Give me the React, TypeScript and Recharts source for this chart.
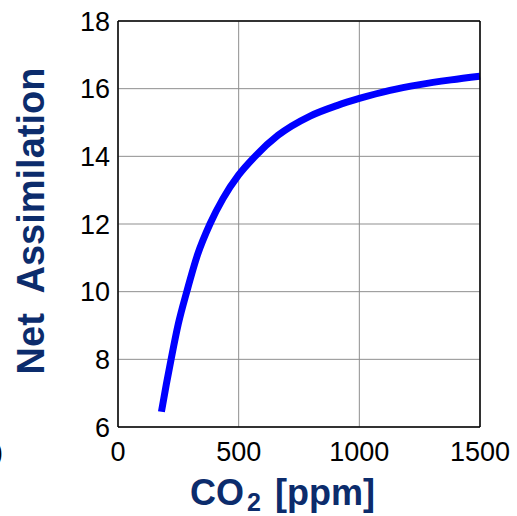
import React from 'react';
import { LineChart, Line, XAxis, YAxis, CartesianGrid, Label } from 'recharts';

const co2 = [180, 200, 220, 250, 285, 330, 381, 435, 500, 568, 663, 796, 907, 1000, 1127, 1250, 1380, 1500];
const assimilation = [6.45, 7.25, 8.0, 9.05, 10.0, 11.1, 12.0, 12.75, 13.45, 14.0, 14.62, 15.19, 15.5, 15.71, 15.95, 16.12, 16.26, 16.37];
const xTicks = [0, 500, 1000, 1500];
const yTicks = [6, 8, 10, 12, 14, 16, 18];

const data = co2.map((c, i) => ({ co2: c, a: assimilation[i] }));

const FONT = '"Liberation Sans", Arial, sans-serif';
const NAVY = '#0c2c6c';

const Labels = () => (
  <g fontFamily={FONT}>
    <text
      x={44}
      y={221}
      transform="rotate(-90, 44, 221)"
      textAnchor="middle"
      fontSize={38}
      fontWeight="bold"
      fill={NAVY}
      style={{ whiteSpace: 'pre' }}
    >
      {'Net  Assimilation'}
    </text>
    <text y={505} fontSize={36} fontWeight="bold" fill={NAVY}>
      <tspan x={190}>CO</tspan>
      <tspan x={247} y={511} fontSize={25}>2</tspan>
      <tspan x={275} y={505}>[ppm]</tspan>
    </text>
    <text x={3} y={461} fontSize={27} textAnchor="end" fill="#000">)</text>
  </g>
);

export default function App() {
  return (
    <div style={{ position: 'absolute', left: 0, top: 0, background: '#fff' }}>
      <LineChart
        width={517}
        height={516}
        data={data}
        margin={{ top: 20, right: 36, left: 38, bottom: 29 }}
      >
        <CartesianGrid stroke="#8f8f8f" strokeWidth={1} />
        <XAxis
          dataKey="co2"
          type="number"
          domain={[0, 1500]}
          ticks={xTicks}
          height={60}
          tickSize={0}
          tickMargin={15}
          axisLine={{ stroke: '#000', strokeWidth: 1.5 }}
          tickLine={false}
          tick={{ fill: '#000', fontSize: 27, fontFamily: FONT }}
          interval={0}
        >
          <Label content={() => <Labels />} />
        </XAxis>
        <XAxis
          xAxisId="top"
          orientation="top"
          dataKey="co2"
          type="number"
          domain={[0, 1500]}
          ticks={xTicks}
          height={1}
          tick={false}
          tickLine={false}
          axisLine={{ stroke: '#000', strokeWidth: 1.5 }}
        />
        <YAxis
          type="number"
          domain={[6, 18]}
          ticks={yTicks}
          width={80}
          tickSize={0}
          tickMargin={8}
          axisLine={{ stroke: '#000', strokeWidth: 1.5 }}
          tickLine={false}
          tick={{ fill: '#000', fontSize: 27, fontFamily: FONT }}
          interval={0}
        />
        <YAxis
          yAxisId="right"
          orientation="right"
          type="number"
          domain={[6, 18]}
          ticks={yTicks}
          width={1}
          tick={false}
          tickLine={false}
          axisLine={{ stroke: '#000', strokeWidth: 1.5 }}
        />
        <Line
          type="monotone"
          dataKey="a"
          stroke="#0000ff"
          strokeWidth={7}
          dot={false}
          isAnimationActive={false}
        />
      </LineChart>
    </div>
  );
}
